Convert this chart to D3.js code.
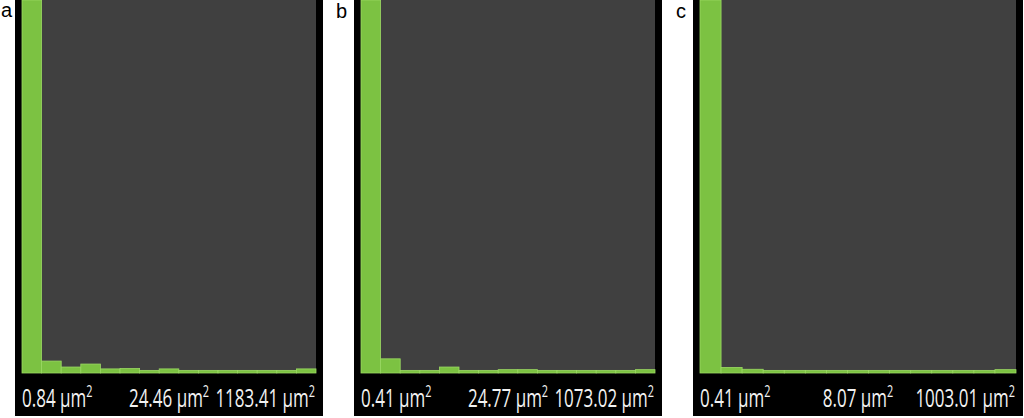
<!DOCTYPE html>
<html>
<head>
<meta charset="utf-8">
<script src="https://cdn.jsdelivr.net/npm/d3@7"></script>
<style>
  body { margin: 0; background: #fff; }
  svg { display: block; }
</style>
</head>
<body>
<div id="chart"></div>
<script>
// Histogram values (% of objects per bin, first bin runs off the top)
const panelNames = ["a", "b", "c"];
const binsA = [100, 3.2, 1.6, 2.4, 1.1, 1.2, 0.7, 1.1, 0.7, 0.7, 0.7, 0.7, 0.7, 0.7, 1.1];
const binsB = [100, 3.8, 0.7, 0.7, 1.6, 0.7, 0.7, 0.9, 0.9, 0.7, 0.7, 0.7, 0.7, 0.7, 0.9];
const binsC = [100, 1.5, 1.0, 0.7, 0.7, 0.7, 0.7, 0.7, 0.7, 0.7, 0.7, 0.7, 0.7, 0.7, 0.9];
const labelsA = ["0.84", "24.46", "1183.41"];
const labelsB = ["0.41", "24.77", "1073.02"];
const labelsC = ["0.41", "8.07", "1003.01"];

const W = 1024;
const H = 418;

const panels = [
  { name: panelNames[0], bins: binsA, labels: labelsA, x0: 15, x1: 323, letterX: 1 },
  { name: panelNames[1], bins: binsB, labels: labelsB, x0: 354, x1: 662, letterX: 336 },
  { name: panelNames[2], bins: binsC, labels: labelsC, x0: 693, x1: 1023, letterX: 676 }
];

const svg = d3.select("#chart").append("svg").attr("width", W).attr("height", H);

const plotTop = 0;
const plotBottom = 373;
const frameBottom = 416;
const inset = 7;

const y = d3.scaleLinear().domain([0, 100]).range([plotBottom, plotTop]);

panels.forEach(p => {
  const g = svg.append("g");

  // black frame
  g.append("rect")
    .attr("x", p.x0).attr("y", 0)
    .attr("width", p.x1 - p.x0).attr("height", frameBottom)
    .attr("fill", "#000");

  const left = p.x0 + inset;
  const right = p.x1 - inset;

  // plot background
  g.append("rect")
    .attr("x", left).attr("y", plotTop)
    .attr("width", right - left).attr("height", plotBottom - plotTop)
    .attr("fill", "#404040");

  const x = d3.scaleBand()
    .domain(d3.range(p.bins.length))
    .range([left, right])
    .padding(0);

  g.append("g")
    .selectAll("rect")
    .data(p.bins)
    .join("rect")
    .attr("x", (d, i) => x(i))
    .attr("y", d => y(d))
    .attr("width", x.bandwidth())
    .attr("height", d => y(0) - y(d))
    .attr("fill", "#7cc242")
    .attr("stroke", "#9bd963")
    .attr("stroke-width", 0.8);

  // axis labels
  const anchors = ["start", "middle", "end"];
  const xs = [left, (left + right) / 2, right - 1];
  p.labels.forEach((lab, i) => {
    const t = g.append("g")
      .attr("transform", `translate(${xs[i]},407) scale(0.68,1)`)
      .append("text")
      .attr("text-anchor", anchors[i])
      .attr("font-family", "'Open Sans', 'Noto Sans', sans-serif")
      .attr("font-size", 25)
      .attr("fill", "#f2f2f2");
    t.append("tspan").text(lab + " µm");
    t.append("tspan").attr("font-size", 16).attr("dy", -10).text("2");
  });

  // panel letter
  svg.append("text")
    .attr("x", p.letterX)
    .attr("y", p.name === "a" ? 17 : 18)
    .attr("font-family", "'Liberation Sans', Arial, sans-serif")
    .attr("font-size", 20)
    .attr("fill", "#000")
    .text(p.name);
});
</script>
</body>
</html>
